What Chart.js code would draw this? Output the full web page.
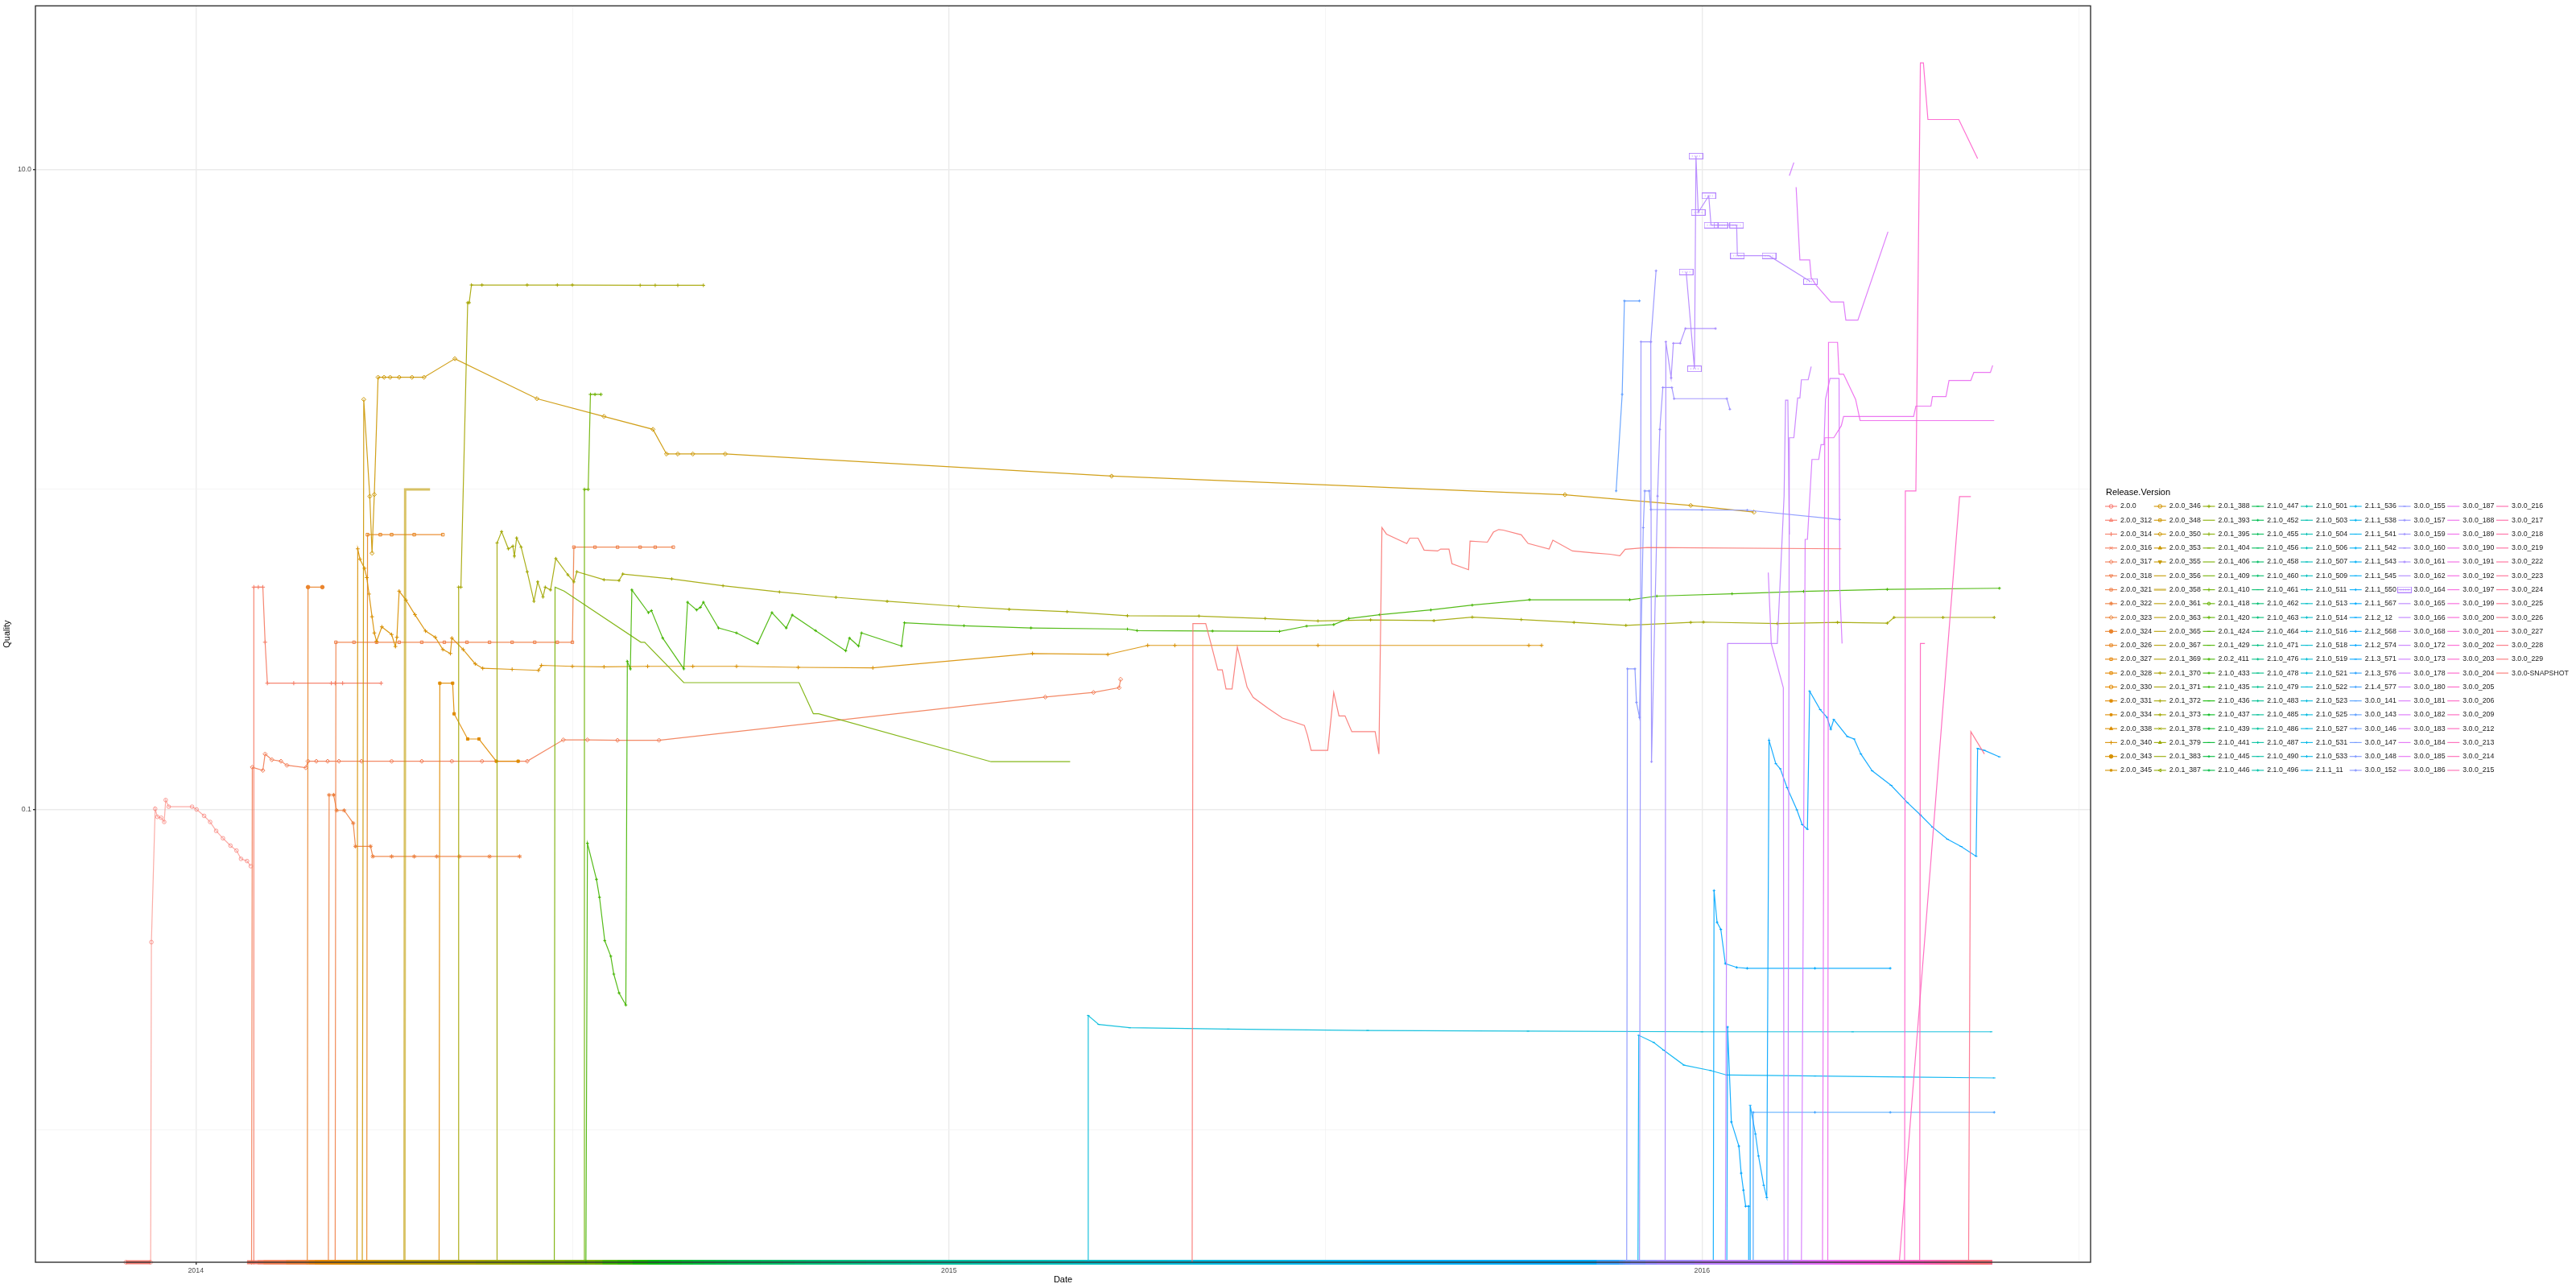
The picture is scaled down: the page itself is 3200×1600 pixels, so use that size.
<!DOCTYPE html>
<html>
<head>
<meta charset="utf-8">
<script src="https://cdn.jsdelivr.net/npm/chart.js@4.4.1/dist/chart.umd.min.js"></script>
<style>html,body{margin:0;padding:0;background:#ffffff;}canvas{display:block;}</style>
</head>
<body>
<canvas id="c" width="3200" height="1600" style="width:3200px;height:1600px"></canvas>
<script>
// ---------------- DATA ----------------
const versions = [
'2.0.0','2.0.0_312','2.0.0_314','2.0.0_316','2.0.0_317','2.0.0_318','2.0.0_321','2.0.0_322','2.0.0_323','2.0.0_324','2.0.0_326','2.0.0_327','2.0.0_328','2.0.0_330','2.0.0_331','2.0.0_334','2.0.0_338','2.0.0_340','2.0.0_343','2.0.0_345',
'2.0.0_346','2.0.0_348','2.0.0_350','2.0.0_353','2.0.0_355','2.0.0_356','2.0.0_358','2.0.0_361','2.0.0_363','2.0.0_365','2.0.0_367','2.0.1_369','2.0.1_370','2.0.1_371','2.0.1_372','2.0.1_373','2.0.1_378','2.0.1_379','2.0.1_383','2.0.1_387',
'2.0.1_388','2.0.1_393','2.0.1_395','2.0.1_404','2.0.1_406','2.0.1_409','2.0.1_410','2.0.1_418','2.0.1_420','2.0.1_424','2.0.1_429','2.0.2_411','2.1.0_433','2.1.0_435','2.1.0_436','2.1.0_437','2.1.0_439','2.1.0_441','2.1.0_445','2.1.0_446',
'2.1.0_447','2.1.0_452','2.1.0_455','2.1.0_456','2.1.0_458','2.1.0_460','2.1.0_461','2.1.0_462','2.1.0_463','2.1.0_464','2.1.0_471','2.1.0_476','2.1.0_478','2.1.0_479','2.1.0_483','2.1.0_485','2.1.0_486','2.1.0_487','2.1.0_490','2.1.0_496',
'2.1.0_501','2.1.0_503','2.1.0_504','2.1.0_506','2.1.0_507','2.1.0_509','2.1.0_511','2.1.0_513','2.1.0_514','2.1.0_516','2.1.0_518','2.1.0_519','2.1.0_521','2.1.0_522','2.1.0_523','2.1.0_525','2.1.0_527','2.1.0_531','2.1.0_533','2.1.1_11',
'2.1.1_536','2.1.1_538','2.1.1_541','2.1.1_542','2.1.1_543','2.1.1_545','2.1.1_550','2.1.1_567','2.1.2_12','2.1.2_568','2.1.2_574','2.1.3_571','2.1.3_576','2.1.4_577','3.0.0_141','3.0.0_143','3.0.0_146','3.0.0_147','3.0.0_148','3.0.0_152',
'3.0.0_155','3.0.0_157','3.0.0_159','3.0.0_160','3.0.0_161','3.0.0_162','3.0.0_164','3.0.0_165','3.0.0_166','3.0.0_168','3.0.0_172','3.0.0_173','3.0.0_178','3.0.0_180','3.0.0_181','3.0.0_182','3.0.0_183','3.0.0_184','3.0.0_185','3.0.0_186',
'3.0.0_187','3.0.0_188','3.0.0_189','3.0.0_190','3.0.0_191','3.0.0_192','3.0.0_197','3.0.0_199','3.0.0_200','3.0.0_201','3.0.0_202','3.0.0_203','3.0.0_204','3.0.0_205','3.0.0_206','3.0.0_209','3.0.0_212','3.0.0_213','3.0.0_214','3.0.0_215',
'3.0.0_216','3.0.0_217','3.0.0_218','3.0.0_219','3.0.0_222','3.0.0_223','3.0.0_224','3.0.0_225','3.0.0_226','3.0.0_227','3.0.0_228','3.0.0_229','3.0.0-SNAPSHOT'
];

// first and last date (decimal year) at which a version sits at zero quality
const floorStart = [
2013.907,2014.068,2014.077,2014.082,2014.074,2014.090,2014.185,2014.176,2014.120,2014.148,2014.228,2014.150,2014.158,2014.165,2014.323,2014.180,2014.190,2014.215,2014.200,2014.205,
2014.212,2014.218,2014.221,2014.230,2014.238,2014.245,2014.277,2014.255,2014.265,2014.285,2014.300,2014.320,2014.335,2014.342,2014.349,2014.400,2014.372,2014.385,2014.410,2014.420,
2014.430,2014.440,2014.450,2014.460,2014.476,2014.490,2014.515,2014.530,2014.545,2014.560,2014.575,2014.518,2014.540,2014.560,2014.580,2014.600,2014.615,2014.630,2014.645,2014.660,
2014.675,2014.690,2014.705,2014.720,2014.735,2014.750,2014.765,2014.780,2014.795,2014.810,2014.830,2014.850,2014.870,2014.890,2014.910,2014.930,2014.950,2014.970,2014.990,2015.010,
2015.030,2015.050,2015.070,2015.090,2015.110,2015.130,2015.150,2015.165,2015.180,2015.200,2015.220,2015.240,2015.260,2015.185,2015.290,2015.320,2015.350,2015.380,2015.410,2015.600,
2015.450,2015.500,2015.915,2015.550,2015.600,2015.650,2015.700,2015.750,2015.800,2016.015,2016.033,2016.064,2016.080,2016.068,2015.860,2015.886,2015.890,2015.895,2015.898,2015.900,
2015.905,2015.917,2015.932,2015.925,2015.951,2015.940,2015.979,2015.990,2016.031,2016.000,2016.114,2016.088,2016.116,2016.132,2016.120,2016.125,2016.130,2016.140,2016.150,2016.160,
2016.165,2016.167,2016.175,2016.185,2016.195,2016.205,2016.215,2016.225,2016.235,2016.245,2016.255,2016.269,2016.265,2016.275,2016.280,2016.262,2016.289,2016.295,2016.300,2016.305,
2016.310,2016.315,2016.320,2016.325,2016.330,2016.335,2016.340,2016.354,2016.350,2016.360,2016.365,2016.370,2015.323
];
const floorEnd = [
2014.073,2014.440,2014.450,2014.455,2014.460,2014.445,2014.450,2014.460,2014.452,2014.448,2014.455,2014.462,2014.450,2014.458,2014.460,2014.455,2014.462,2014.465,2014.470,2014.475,
2014.540,2014.545,2014.550,2014.555,2014.560,2014.548,2014.552,2014.558,2014.562,2014.556,2014.560,2014.780,2014.790,2014.795,2014.800,2014.805,2014.790,2014.795,2014.800,2014.805,
2014.810,2014.800,2014.805,2014.810,2014.815,2014.800,2014.805,2014.810,2014.815,2014.820,2014.825,2014.830,2016.385,2016.380,2016.385,2016.380,2016.385,2016.380,2016.385,2016.380,
2016.385,2016.380,2016.385,2016.380,2016.385,2016.380,2016.385,2016.380,2016.385,2016.380,2016.385,2016.380,2016.385,2016.380,2016.385,2016.380,2016.385,2016.380,2016.385,2016.380,
2016.385,2016.380,2016.385,2016.380,2016.385,2016.380,2016.385,2016.380,2016.385,2016.380,2016.385,2016.380,2016.385,2016.384,2016.385,2016.380,2016.385,2016.380,2016.385,2016.385,
2016.385,2016.380,2016.388,2016.385,2016.380,2016.385,2016.380,2016.385,2016.380,2016.250,2016.062,2016.395,2016.385,2016.388,2016.385,2015.917,2016.385,2016.380,2016.385,2016.183,
2016.385,2015.939,2016.037,2016.385,2016.018,2016.385,2016.144,2016.385,2016.116,2016.385,2016.145,2016.109,2016.122,2016.186,2016.385,2016.247,2016.385,2016.380,2016.385,2016.386,
2016.385,2016.388,2016.385,2016.380,2016.385,2016.380,2016.385,2016.380,2016.385,2016.380,2016.385,2016.366,2016.385,2016.380,2016.385,2016.357,2016.296,2016.385,2016.380,2016.385,
2016.385,2016.380,2016.385,2016.380,2016.385,2016.380,2016.385,2016.375,2016.385,2016.380,2016.385,2016.380,2016.185
];

// visible quality traces: [decimal year, quality]  (0 = zero quality)
const t_2_0_0 = [[2013.907,0],[2013.940,0],[2013.941,0.0385],[2013.946,0.1005],[2013.949,0.0948],[2013.954,0.0942],[2013.958,0.0914],[2013.960,0.107],[2013.964,0.102],[2013.995,0.102],[2014.001,0.100],[2014.011,0.0955],[2014.019,0.0914],[2014.027,0.0857],[2014.036,0.0813],[2014.046,0.0771],[2014.054,0.0744],[2014.060,0.0701],[2014.068,0.069],[2014.073,0.0665]];
const t_2_0_0_314 = [[2014.077,0],[2014.077,0.495],[2014.083,0.495],[2014.089,0.495],[2014.092,0.333],[2014.095,0.248],[2014.130,0.248],[2014.180,0.248],[2014.185,0.248],[2014.195,0.248],[2014.246,0.248]];
const t_2_0_0_317 = [[2014.074,0],[2014.075,0.1355],[2014.089,0.1324],[2014.092,0.149],[2014.101,0.143],[2014.113,0.1415],[2014.121,0.1374],[2014.146,0.135],[2014.149,0.1415],[2014.160,0.1415],[2014.175,0.1415],[2014.190,0.1415],[2014.220,0.1415],[2014.260,0.1415],[2014.300,0.1415],[2014.340,0.1415],[2014.380,0.1415],[2014.440,0.1415],[2014.488,0.165],[2014.520,0.165],[2014.560,0.1645],[2014.615,0.1645],[2015.128,0.2245],[2015.192,0.232],[2015.226,0.240],[2015.228,0.255]];
const t_2_0_0_321 = [[2014.185,0],[2014.186,0.333],[2014.210,0.333],[2014.240,0.333],[2014.270,0.333],[2014.300,0.333],[2014.330,0.333],[2014.360,0.333],[2014.390,0.333],[2014.420,0.333],[2014.450,0.333],[2014.480,0.333],[2014.500,0.333],[2014.502,0.660],[2014.530,0.660],[2014.560,0.660],[2014.590,0.660],[2014.610,0.660],[2014.634,0.660]];
const t_2_0_0_322 = [[2014.176,0],[2014.177,0.111],[2014.183,0.111],[2014.187,0.0993],[2014.197,0.0993],[2014.209,0.0906],[2014.212,0.0767],[2014.232,0.0767],[2014.235,0.0713],[2014.260,0.0713],[2014.290,0.0713],[2014.320,0.0713],[2014.350,0.0713],[2014.390,0.0713],[2014.430,0.0713]];
const t_2_0_0_324 = [[2014.148,0],[2014.149,0.495],[2014.168,0.495]];
const t_2_0_0_326 = [[2014.227,0],[2014.228,0.722],[2014.245,0.722],[2014.260,0.722],[2014.290,0.722],[2014.328,0.722]];
const t_2_0_0_331 = [[2014.323,0],[2014.324,0.248],[2014.341,0.248],[2014.343,0.199],[2014.361,0.166],[2014.376,0.166],[2014.399,0.1415],[2014.428,0.1415]];
const t_2_0_0_340 = [[2014.214,0],[2014.215,0.652],[2014.218,0.605],[2014.224,0.567],[2014.227,0.530],[2014.230,0.471],[2014.234,0.400],[2014.237,0.356],[2014.240,0.335],[2014.247,0.372],[2014.260,0.352],[2014.265,0.323],[2014.267,0.345],[2014.270,0.481],[2014.279,0.451],[2014.291,0.406],[2014.305,0.361],[2014.318,0.345],[2014.328,0.316],[2014.338,0.307],[2014.340,0.343],[2014.355,0.316],[2014.371,0.285],[2014.381,0.276],[2014.420,0.274],[2014.455,0.272],[2014.459,0.282],[2014.500,0.280],[2014.542,0.279],[2014.600,0.280],[2014.660,0.280],[2014.718,0.280],[2014.800,0.278],[2014.899,0.277],[2015.111,0.307],[2015.211,0.305],[2015.264,0.3255],[2015.300,0.3255],[2015.490,0.3255],[2015.770,0.3255],[2015.787,0.3255]];
const t_2_0_0_350 = [[2014.221,0],[2014.223,1.91],[2014.231,0.951],[2014.234,0.632],[2014.237,0.964],[2014.242,2.24],[2014.250,2.24],[2014.258,2.24],[2014.270,2.24],[2014.287,2.24],[2014.303,2.24],[2014.344,2.56],[2014.453,1.92],[2014.542,1.69],[2014.607,1.54],[2014.625,1.29],[2014.640,1.29],[2014.660,1.29],[2014.703,1.29],[2015.216,1.10],[2015.818,0.962],[2015.985,0.891],[2016.069,0.849]];
const t_2_0_0_358 = [[2014.277,0],[2014.278,1.0],[2014.311,1.0]];
const t_2_0_1_372 = [[2014.349,0],[2014.349,0.495],[2014.352,0.495],[2014.361,3.83],[2014.363,3.83],[2014.366,4.35],[2014.380,4.35],[2014.440,4.35],[2014.480,4.35],[2014.500,4.35],[2014.590,4.34],[2014.610,4.34],[2014.640,4.34],[2014.674,4.34]];
const t_2_0_1_373 = [[2014.400,0],[2014.400,0.680],[2014.406,0.738],[2014.415,0.652],[2014.421,0.665],[2014.423,0.619],[2014.426,0.705],[2014.432,0.660],[2014.440,0.553],[2014.449,0.447],[2014.454,0.514],[2014.461,0.461],[2014.464,0.495],[2014.471,0.485],[2014.478,0.608],[2014.494,0.541],[2014.502,0.514],[2014.506,0.553],[2014.542,0.522],[2014.562,0.519],[2014.567,0.544],[2014.632,0.525],[2014.700,0.500],[2014.775,0.478],[2014.850,0.460],[2014.918,0.447],[2015.013,0.431],[2015.080,0.422],[2015.157,0.415],[2015.237,0.403],[2015.332,0.402],[2015.420,0.395],[2015.490,0.388],[2015.560,0.391],[2015.644,0.389],[2015.695,0.399],[2015.760,0.392],[2015.830,0.384],[2015.899,0.376],[2015.985,0.384],[2016.002,0.385],[2016.100,0.381],[2016.180,0.384],[2016.246,0.382],[2016.255,0.398],[2016.320,0.398],[2016.388,0.398]];
const t_2_0_1_406 = [[2014.476,0],[2014.477,0.495],[2014.489,0.481],[2014.591,0.333],[2014.596,0.333],[2014.648,0.249],[2014.801,0.249],[2014.820,0.199],[2014.827,0.199],[2015.056,0.141],[2015.161,0.141]];
const t_2_0_1_410 = [[2014.515,0],[2014.516,1.0],[2014.521,1.0],[2014.524,1.98],[2014.530,1.98],[2014.538,1.98]];
const t_2_0_2_411 = [[2014.518,0],[2014.520,0.0784],[2014.532,0.0605],[2014.536,0.0532],[2014.543,0.0389],[2014.551,0.0348],[2014.555,0.0306],[2014.562,0.0267],[2014.571,0.0245],[2014.573,0.290],[2014.577,0.275],[2014.579,0.485],[2014.601,0.412],[2014.605,0.418],[2014.620,0.343],[2014.648,0.275],[2014.653,0.444],[2014.665,0.420],[2014.670,0.428],[2014.674,0.444],[2014.694,0.369],[2014.718,0.356],[2014.746,0.330],[2014.765,0.412],[2014.784,0.369],[2014.792,0.405],[2014.823,0.362],[2014.863,0.313],[2014.868,0.343],[2014.880,0.324],[2014.884,0.356],[2014.937,0.324],[2014.941,0.383],[2015.020,0.375],[2015.109,0.369],[2015.237,0.366],[2015.250,0.362],[2015.350,0.361],[2015.439,0.360],[2015.475,0.374],[2015.511,0.378],[2015.531,0.395],[2015.572,0.406],[2015.640,0.420],[2015.695,0.435],[2015.771,0.452],[2015.904,0.452],[2015.940,0.464],[2016.040,0.472],[2016.135,0.480],[2016.246,0.487],[2016.395,0.491]];
const t_2_1_0_522 = [[2015.185,0],[2015.185,0.0227],[2015.199,0.0213],[2015.240,0.0208],[2015.371,0.0206],[2015.556,0.0204],[2015.769,0.0203],[2016.000,0.0202],[2016.200,0.0202],[2016.384,0.0202]];
const t_2_1_1_541 = [[2015.915,0],[2015.916,0.0197],[2015.936,0.0187],[2015.949,0.0177],[2015.976,0.0159],[2016.011,0.0153],[2016.033,0.0148],[2016.150,0.0147],[2016.268,0.0146],[2016.388,0.0145]];
const t_2_1_2_568 = [[2016.015,0],[2016.016,0.0558],[2016.020,0.0444],[2016.025,0.0422],[2016.031,0.0330],[2016.046,0.0321],[2016.060,0.0319],[2016.150,0.0319],[2016.250,0.0319]];
const t_2_1_2_574 = [[2016.033,0],[2016.034,0.0209],[2016.039,0.01056],[2016.049,0.00887],[2016.052,0.00731],[2016.055,0.00647],[2016.058,0.00576],[2016.062,0.00576],[2016.062,0]];
const t_2_1_3_571 = [[2016.064,0],[2016.064,0.0119],[2016.071,0.00968],[2016.075,0.00827],[2016.082,0.00670],[2016.086,0.00614],[2016.089,0.1644],[2016.098,0.139],[2016.104,0.134],[2016.113,0.117],[2016.126,0.0997],[2016.133,0.0897],[2016.140,0.0867],[2016.143,0.234],[2016.157,0.205],[2016.166,0.194],[2016.171,0.178],[2016.175,0.191],[2016.193,0.169],[2016.202,0.166],[2016.211,0.149],[2016.226,0.132],[2016.251,0.119],[2016.273,0.105],[2016.290,0.0962],[2016.306,0.0881],[2016.326,0.0807],[2016.344,0.0766],[2016.364,0.0714],[2016.366,0.155],[2016.375,0.153],[2016.395,0.146]];
const t_2_1_4_577 = [[2016.068,0],[2016.068,0.01132],[2016.150,0.01132],[2016.250,0.01132],[2016.388,0.01132]];
const t_3_0_0_143 = [[2015.886,0.989],[2015.894,1.98],[2015.897,3.88],[2015.917,3.88]];
const t_3_0_0_152 = [[2015.900,0],[2015.901,0.275],[2015.911,0.275],[2015.913,0.216],[2015.917,0.194],[2015.922,0.759],[2015.924,0.989],[2015.930,0.989],[2015.932,0.865],[2016.000,0.863],[2016.060,0.861],[2016.183,0.805]];
const t_3_0_0_157 = [[2015.917,0],[2015.919,2.89],[2015.932,2.89],[2015.939,4.82]];
const t_3_0_0_159 = [[2015.932,2.89],[2015.933,0.141],[2015.941,0.953],[2015.944,1.54],[2015.948,2.08],[2015.960,2.08],[2015.963,1.92],[2016.033,1.92],[2016.037,1.78]];
const t_3_0_0_161 = [[2015.951,0],[2015.952,2.89],[2015.959,2.23],[2015.962,2.86],[2015.971,2.86],[2015.978,3.18],[2016.018,3.18]];
const t_3_0_0_164 = [[2015.979,4.78],[2015.990,2.38],[2015.992,11.0],[2015.995,7.33],[2016.009,8.26],[2016.012,6.69],[2016.025,6.69],[2016.046,6.69],[2016.047,5.37],[2016.089,5.37],[2016.144,4.46]];
const t_3_0_0_166 = [[2016.031,0],[2016.034,0.33],[2016.100,0.33],[2016.109,0.953],[2016.111,1.90],[2016.114,1.90],[2016.116,0.723]];
const t_3_0_0_172 = [[2016.114,0],[2016.116,1.45],[2016.122,1.45],[2016.127,1.93],[2016.130,1.93],[2016.132,2.20],[2016.141,2.20],[2016.145,2.42]];
const t_3_0_0_173 = [[2016.088,0.55],[2016.092,0.33],[2016.108,0.24],[2016.109,0]];
const t_3_0_0_178 = [[2016.116,9.55],[2016.122,10.5]];
const t_3_0_0_180 = [[2016.132,0],[2016.137,0.698],[2016.140,0.698],[2016.146,1.24],[2016.155,1.24],[2016.158,1.38],[2016.162,1.38],[2016.164,1.91],[2016.170,2.22],[2016.182,2.22],[2016.183,0.49],[2016.186,0.33]];
const t_3_0_0_182 = [[2016.125,8.79],[2016.130,5.21],[2016.143,5.21],[2016.145,4.59],[2016.151,4.36],[2016.171,3.85],[2016.188,3.85],[2016.191,3.38],[2016.207,3.38],[2016.247,6.38]];
const t_3_0_0_186 = [[2016.160,0],[2016.163,1.45],[2016.175,1.45],[2016.185,1.58],[2016.188,1.69],[2016.281,1.69],[2016.284,1.82],[2016.304,1.82],[2016.306,1.95],[2016.324,1.95],[2016.328,2.19],[2016.357,2.19],[2016.361,2.32],[2016.383,2.32],[2016.386,2.44]];
const t_3_0_0_188 = [[2016.167,0],[2016.168,2.88],[2016.180,2.88],[2016.182,2.29],[2016.188,2.29],[2016.204,1.91],[2016.210,1.64],[2016.388,1.64]];
const t_3_0_0_203 = [[2016.269,0],[2016.270,0.989],[2016.284,0.989],[2016.290,21.5],[2016.294,21.5],[2016.300,14.3],[2016.341,14.3],[2016.366,10.8]];
const t_3_0_0_209 = [[2016.262,0],[2016.342,0.949],[2016.357,0.949]];
const t_3_0_0_212 = [[2016.289,0],[2016.290,0.33],[2016.296,0.33]];
const t_3_0_0_225 = [[2016.354,0],[2016.357,0.175],[2016.375,0.149]];
const t_3_0_0_SNAPSHOT = [[2015.323,0],[2015.324,0.381],[2015.341,0.381],[2015.357,0.273],[2015.363,0.273],[2015.368,0.238],[2015.376,0.238],[2015.383,0.322],[2015.396,0.241],[2015.404,0.224],[2015.424,0.207],[2015.443,0.193],[2015.472,0.183],[2015.476,0.171],[2015.481,0.153],[2015.503,0.153],[2015.511,0.232],[2015.518,0.196],[2015.526,0.196],[2015.535,0.175],[2015.566,0.175],[2015.571,0.149],[2015.575,0.760],[2015.581,0.725],[2015.608,0.677],[2015.612,0.704],[2015.623,0.704],[2015.631,0.646],[2015.649,0.642],[2015.653,0.651],[2015.664,0.651],[2015.668,0.586],[2015.690,0.561],[2015.692,0.689],[2015.715,0.684],[2015.723,0.735],[2015.730,0.749],[2015.736,0.746],[2015.760,0.721],[2015.769,0.678],[2015.797,0.651],[2015.802,0.694],[2015.828,0.642],[2015.856,0.633],[2015.878,0.627],[2015.891,0.620],[2015.898,0.650],[2015.927,0.658],[2016.185,0.652]];

const traceOf = {
  '2.0.0': t_2_0_0, '2.0.0_314': t_2_0_0_314, '2.0.0_317': t_2_0_0_317, '2.0.0_321': t_2_0_0_321,
  '2.0.0_322': t_2_0_0_322, '2.0.0_324': t_2_0_0_324, '2.0.0_326': t_2_0_0_326, '2.0.0_331': t_2_0_0_331,
  '2.0.0_340': t_2_0_0_340, '2.0.0_350': t_2_0_0_350, '2.0.0_358': t_2_0_0_358, '2.0.1_372': t_2_0_1_372,
  '2.0.1_373': t_2_0_1_373, '2.0.1_406': t_2_0_1_406, '2.0.1_410': t_2_0_1_410, '2.0.2_411': t_2_0_2_411,
  '2.1.0_522': t_2_1_0_522, '2.1.1_541': t_2_1_1_541, '2.1.2_568': t_2_1_2_568, '2.1.2_574': t_2_1_2_574,
  '2.1.3_571': t_2_1_3_571, '2.1.4_577': t_2_1_4_577, '3.0.0_143': t_3_0_0_143, '3.0.0_152': t_3_0_0_152,
  '3.0.0_157': t_3_0_0_157, '3.0.0_159': t_3_0_0_159, '3.0.0_161': t_3_0_0_161, '3.0.0_164': t_3_0_0_164,
  '3.0.0_166': t_3_0_0_166, '3.0.0_172': t_3_0_0_172, '3.0.0_173': t_3_0_0_173, '3.0.0_178': t_3_0_0_178,
  '3.0.0_180': t_3_0_0_180, '3.0.0_182': t_3_0_0_182, '3.0.0_186': t_3_0_0_186, '3.0.0_188': t_3_0_0_188,
  '3.0.0_203': t_3_0_0_203, '3.0.0_209': t_3_0_0_209, '3.0.0_212': t_3_0_0_212, '3.0.0_225': t_3_0_0_225,
  '3.0.0-SNAPSHOT': t_3_0_0_SNAPSHOT
};

const xTickValues = [2014, 2014.5, 2015, 2015.5, 2016, 2016.5];
const xTickLabels = ['2014', '', '2015', '', '2016', ''];
const yTickValues = [0.01, 0.1, 1, 10];
const yTickLabels = ['', '0.1', '', '10.0'];

// ---------------- STYLE / LAYOUT ----------------
const X_MIN = 2013.787, X_MAX = 2016.516;
const Y_MIN = 0.00385, Y_MAX = 32.4;
const FONT = '"Liberation Sans", Arial, Helvetica, sans-serif';
Chart.defaults.font.family = FONT;

function hcl(h, c, l) {
  const hr = h * Math.PI / 180;
  const U = c * Math.cos(hr), V = c * Math.sin(hr);
  const Y = l > 8 ? Math.pow((l + 16) / 116, 3) : l / 903.3;
  const Xn = 0.95047, Yn = 1.0, Zn = 1.08883;
  const den = Xn + 15 * Yn + 3 * Zn;
  const un = 4 * Xn / den, vn = 9 * Yn / den;
  const u = U / (13 * l) + un, v = V / (13 * l) + vn;
  const X = Y * 9 * u / (4 * v);
  const Z = Y * (12 - 3 * u - 20 * v) / (4 * v);
  const r = 3.2404542 * X - 1.5371385 * Y - 0.4985314 * Z;
  const g = -0.9692660 * X + 1.8760108 * Y + 0.0415560 * Z;
  const b = 0.0556434 * X - 0.2040259 * Y + 1.0572252 * Z;
  const gam = t => { t = t <= 0.0031308 ? 12.92 * t : 1.055 * Math.pow(t, 1 / 2.4) - 0.055; return Math.round(Math.max(0, Math.min(1, t)) * 255); };
  return [gam(r), gam(g), gam(b)];
}
const N = versions.length;
const rgbOf = versions.map((_, i) => hcl(15 + 360 * i / N, 100, 65));
const rgba = (i, a) => `rgba(${rgbOf[i][0]},${rgbOf[i][1]},${rgbOf[i][2]},${a})`;

function boxMarker(color) {
  const c = document.createElement('canvas');
  c.width = 18; c.height = 8;
  const g = c.getContext('2d');
  g.strokeStyle = color; g.lineWidth = 1;
  g.strokeRect(0.5, 0.5, 17, 7);
  g.fillStyle = color;
  for (let k = 0; k < 4; k++) g.fillRect(4 + k * 3, 3.5, 1, 1);
  return c;
}

// marker shape per legend entry (approximating the ggplot shapes)
const shapeTable = {
  0:['circle',0,0,2.3], 1:['triangle',0,0,2.5], 2:['cross',0,0,2.6], 3:['crossRot',0,0,2.6], 4:['rectRot',0,0,2.6],
  5:['triangle',0,180,2.5], 6:['rect',0,0,2.3], 7:['star',0,0,2.6], 8:['rectRot',0,0,2.6], 9:['circle',1,0,2.3],
  10:['rect',0,0,2.4], 11:['rect',0,0,2.3], 12:['rect',0,0,2.3], 13:['circle',0,0,2.3], 14:['rect',1,0,2.2],
  15:['rect',1,0,1.8], 16:['triangle',1,0,2.4], 17:['cross',0,0,2.4], 18:['circle',1,0,2.3], 19:['rect',1,0,1.6],
  20:['circle',0,0,2.3], 21:['rect',0,0,2.3], 22:['rectRot',0,0,2.6], 23:['triangle',1,0,2.5], 24:['triangle',1,180,2.5],
  32:['cross',0,0,2.2], 34:['cross',0,0,2.2], 35:['cross',0,0,2.0], 36:['crossRot',0,0,2.2], 37:['triangle',1,0,2.2],
  39:['triangle',0,270,2.2], 40:['cross',0,0,2.2], 42:['cross',0,0,2.2], 43:['line',0,0,2.2], 46:['cross',0,0,2.2],
  47:['circle',0,0,1.8], 48:['cross',0,0,2.2], 49:['line',0,0,2.2], 50:['line',0,0,2.2], 51:['cross',0,0,1.8]
};
function shapeFor(i) {
  if (shapeTable[i]) { const s = shapeTable[i]; return {style: s[0], filled: !!s[1], rot: s[2], r: s[3]}; }
  if (i === 126) return {style: boxMarker(rgba(i, 1)), filled: false, rot: 0, r: 5};
  if (i >= 52 && i <= 124 && i !== 125) return {style: (i % 3 === 0 ? 'line' : 'cross'), filled: false, rot: 0, r: 1.6};
  return null;
}
const shapes = versions.map((_, i) => shapeFor(i));

// ---------------- DATASETS ----------------
const yv = v => (v <= 0 ? Y_MIN : v);
const FLOOR_W = 5;
const datasets = versions.map((name, i) => {
  const tr = traceOf[name];
  const pts = tr ? tr : [[floorStart[i], 0], [floorEnd[i], 0]];
  const sh = shapes[i];
  const pale = (name === '2.0.0' || name === '2.0.0_358');
  const lineCol = rgba(i, tr ? (pale ? 0.6 : 0.9) : 0.95);
  const baseW = tr ? (name === '2.0.0_358' ? 3 : 1.2) : FLOOR_W;
  return {
    label: name,
    data: pts.map(p => ({x: p[0], y: yv(p[1])})),
    borderColor: lineCol,
    backgroundColor: lineCol,
    borderWidth: baseW,
    segment: {
      borderWidth: s => (s.p0.parsed.y <= Y_MIN && s.p1.parsed.y <= Y_MIN) ? FLOOR_W : baseW,
      borderColor: s => (s.p0.parsed.y <= Y_MIN && s.p1.parsed.y <= Y_MIN) ? rgba(i, 0.95) : lineCol
    },
    pointRadius: (tr && sh) ? sh.r : 0,
    pointStyle: sh ? sh.style : 'circle',
    pointRotation: sh ? sh.rot : 0,
    pointBorderColor: rgba(i, pale ? 0.7 : 1),
    pointBackgroundColor: (sh && sh.filled) ? rgba(i, 1) : 'rgba(0,0,0,0)',
    pointBorderWidth: 1,
    pointHoverRadius: 0,
    tension: 0,
    fill: false,
    clip: false,
    order: N - i
  };
});

function drawMarker(ctx, sh, x, y, i) {
  if (!sh) return;
  ctx.save();
  ctx.strokeStyle = rgba(i, 1);
  ctx.fillStyle = sh.filled ? rgba(i, 1) : 'rgba(0,0,0,0)';
  ctx.lineWidth = 1;
  if (Chart.helpers && Chart.helpers.drawPoint) {
    Chart.helpers.drawPoint(ctx, {pointStyle: sh.style, radius: sh.r, rotation: sh.rot, borderWidth: 1}, x, y);
  }
  ctx.restore();
}

const panelAndLegend = {
  id: 'panelAndLegend',
  afterDatasetsDraw(chart) {
    const {ctx, chartArea: a} = chart;
    ctx.save();
    ctx.strokeStyle = '#333333';
    ctx.lineWidth = 1.4;
    ctx.strokeRect(a.left, a.top, a.right - a.left, a.bottom - a.top);
    ctx.restore();
  },
  afterDraw(chart) {
    const ctx = chart.ctx;
    const LX = 2616, COLW = 60.75, Y0 = 629, ROWH = 17.26, ROWS = 20;
    ctx.save();
    ctx.fillStyle = '#000000';
    ctx.textBaseline = 'middle';
    ctx.textAlign = 'left';
    ctx.font = '11px ' + FONT;
    ctx.fillText('Release.Version', LX, 612);
    ctx.font = '8.8px ' + FONT;
    versions.forEach((name, i) => {
      const c = Math.floor(i / ROWS), r = i % ROWS;
      const kx = LX + c * COLW, ky = Y0 + r * ROWH;
      ctx.strokeStyle = rgba(i, name === '2.0.0_358' ? 0.6 : 0.9);
      ctx.lineWidth = name === '2.0.0_358' ? 2.5 : 1.2;
      ctx.beginPath(); ctx.moveTo(kx - 1, ky); ctx.lineTo(kx + 14, ky); ctx.stroke();
      drawMarker(ctx, shapes[i], kx + 6.5, ky, i);
      ctx.fillStyle = '#1a1a1a';
      ctx.fillText(name, kx + 18, ky);
    });
    ctx.restore();
  }
};

const near = (a, b) => Math.abs(a - b) < 1e-9;
new Chart(document.getElementById('c').getContext('2d'), {
  type: 'line',
  data: {datasets},
  plugins: [panelAndLegend],
  options: {
    responsive: false,
    animation: false,
    devicePixelRatio: 1,
    events: [],
    layout: {padding: {left: 0, right: 603, top: 6, bottom: 0}},
    plugins: {legend: {display: false}, tooltip: {enabled: false}},
    scales: {
      x: {
        type: 'linear', min: X_MIN, max: X_MAX,
        afterBuildTicks: s => { s.ticks = xTickValues.map(v => ({value: v})); },
        afterFit: s => { s.height = 32; },
        ticks: {
          autoSkip: false, maxRotation: 0, minRotation: 0, padding: 2,
          color: '#4D4D4D', font: {size: 8.8},
          callback: v => { const k = xTickValues.findIndex(t => near(t, v)); return k >= 0 ? xTickLabels[k] : ''; }
        },
        grid: {
          color: c => (c.tick && Number.isInteger(c.tick.value)) ? '#EBEBEB' : '#F3F3F3',
          lineWidth: c => (c.tick && Number.isInteger(c.tick.value)) ? 1.4 : 0.8,
          tickColor: c => (c.tick && Number.isInteger(c.tick.value)) ? '#333333' : 'rgba(0,0,0,0)',
          tickLength: 3, drawTicks: true
        },
        border: {display: false},
        title: {display: true, text: 'Date', color: '#000000', font: {size: 11}, padding: {top: 0, bottom: 3}}
      },
      y: {
        type: 'logarithmic', min: Y_MIN, max: Y_MAX,
        afterBuildTicks: s => { s.ticks = yTickValues.map(v => ({value: v})); },
        afterFit: s => { s.width = 44; },
        ticks: {
          autoSkip: false, padding: 2, color: '#4D4D4D', font: {size: 8.8},
          callback: v => { const k = yTickValues.findIndex(t => Math.abs(t - v) / t < 1e-6); return k >= 0 ? yTickLabels[k] : ''; }
        },
        grid: {
          color: c => (c.tick && (Math.abs(c.tick.value - 0.1) < 1e-9 || Math.abs(c.tick.value - 10) < 1e-9)) ? '#EBEBEB' : '#F3F3F3',
          lineWidth: c => (c.tick && (Math.abs(c.tick.value - 0.1) < 1e-9 || Math.abs(c.tick.value - 10) < 1e-9)) ? 1.4 : 0.8,
          tickColor: c => (c.tick && (Math.abs(c.tick.value - 0.1) < 1e-9 || Math.abs(c.tick.value - 10) < 1e-9)) ? '#333333' : 'rgba(0,0,0,0)',
          tickLength: 3, drawTicks: true
        },
        border: {display: false},
        title: {display: true, text: 'Quality', color: '#000000', font: {size: 11}, padding: {top: 2, bottom: 0}}
      }
    }
  }
});
</script>
</body>
</html>
